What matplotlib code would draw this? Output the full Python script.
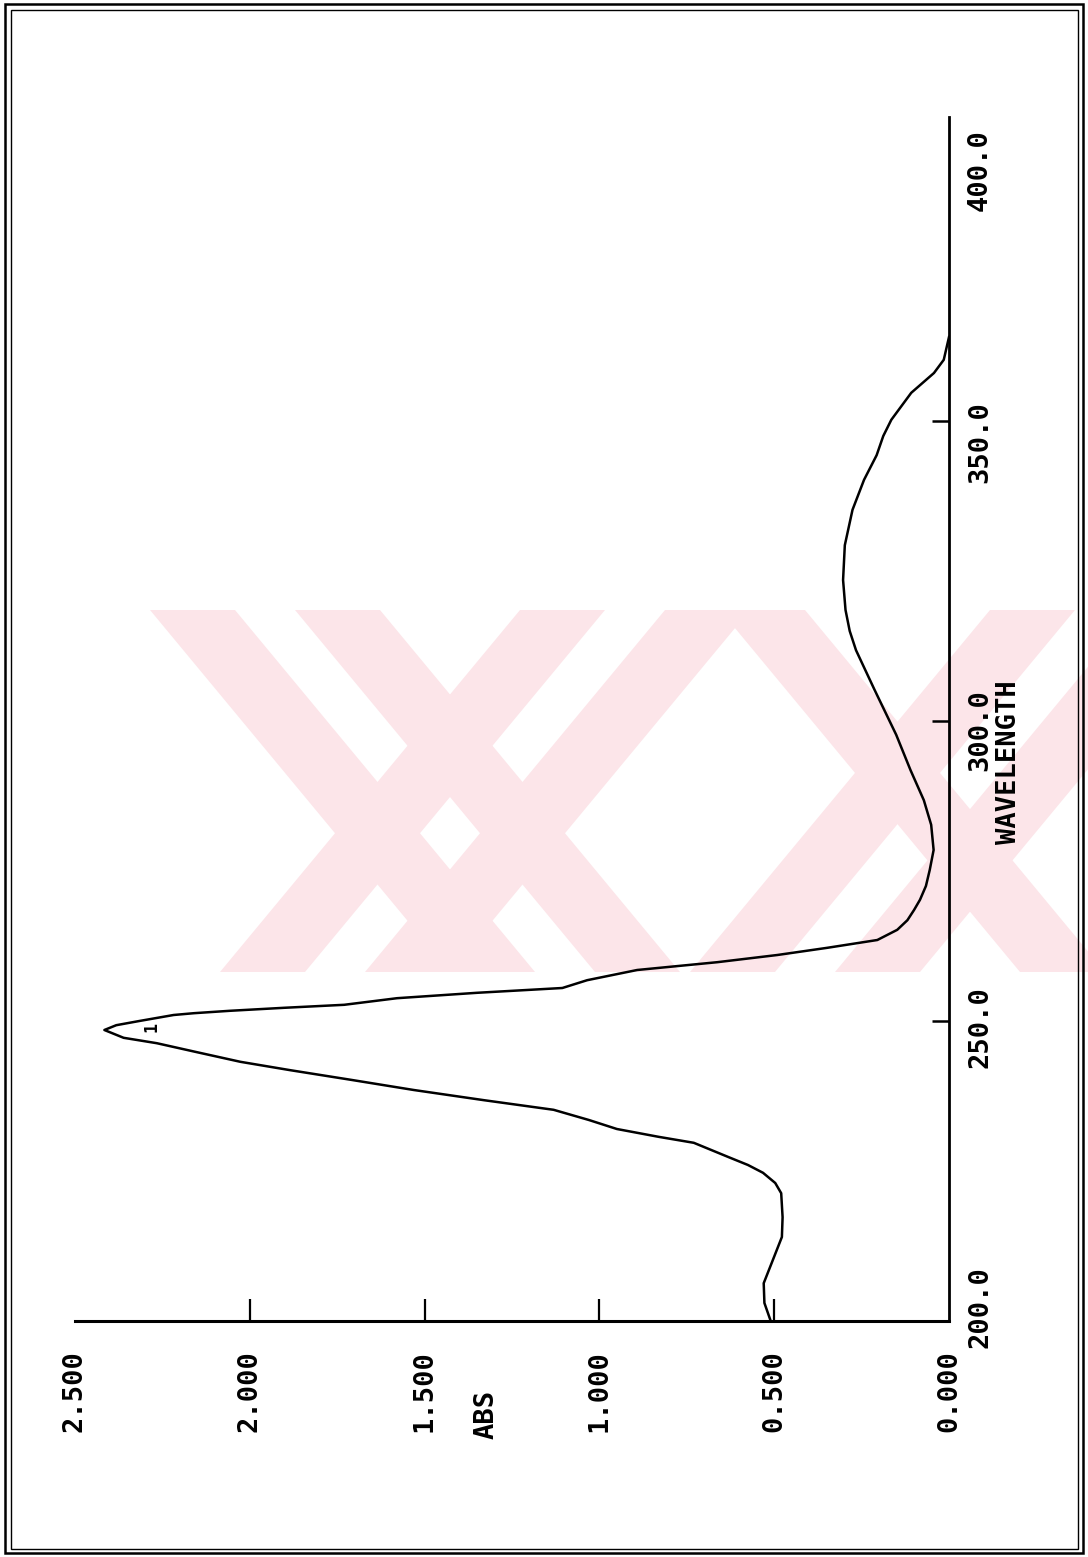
import matplotlib
matplotlib.use('Agg')
import matplotlib.pyplot as plt
from matplotlib.patches import Rectangle, Polygon

# absorbance spectrum, read along the wavelength axis (nm)
wavelength = [200.0, 203.0, 206.3, 209.7, 214.0, 217.3, 221.3, 223.0, 224.7, 226.0,
              227.3, 228.5, 229.7, 230.7, 232.0, 233.5, 235.2, 236.8, 238.5, 240.2,
              241.8, 243.2, 244.8, 246.3, 247.2, 248.5, 249.3, 250.0, 250.5, 251.0,
              251.3, 251.7, 252.2, 252.7, 253.8, 254.7, 255.5, 256.8, 258.5, 259.8,
              261.0, 262.2, 263.5, 265.2, 266.8, 268.5, 270.2, 272.5, 275.2, 278.5,
              282.7, 286.8, 291.8, 297.7, 305.2, 311.8, 315.0, 318.5, 323.5, 329.3,
              335.2, 340.2, 344.3, 347.5, 350.2, 354.7, 358.0, 360.2, 364.0]
absorb = [0.510, 0.528, 0.530, 0.507, 0.478, 0.476, 0.480, 0.497, 0.532, 0.575,
          0.630, 0.680, 0.730, 0.831, 0.950, 1.030, 1.131, 1.330, 1.531, 1.711,
          1.884, 2.027, 2.151, 2.266, 2.361, 2.416, 2.382, 2.316, 2.267, 2.218,
          2.160, 2.057, 1.902, 1.730, 1.579, 1.350, 1.106, 1.035, 0.892, 0.663,
          0.491, 0.348, 0.205, 0.148, 0.119, 0.100, 0.083, 0.066, 0.055, 0.044,
          0.051, 0.072, 0.110, 0.151, 0.213, 0.266, 0.284, 0.296, 0.303, 0.298,
          0.276, 0.243, 0.207, 0.188, 0.165, 0.108, 0.043, 0.015, 0.0]

abs_ticks = [0.5, 1.0, 1.5, 2.0]
abs_labels = ['0.000', '0.500', '1.000', '1.500', '2.000', '2.500']
abs_label_vals = [0.0, 0.5, 1.0, 1.5, 2.0, 2.5]
wl_ticks = [250, 300, 350]
wl_labels = ['200.0', '250.0', '300.0', '350.0', '400.0']
wl_label_vals = [202.3, 249.0, 298.5, 346.5, 391.8]
peak_wl, peak_abs = 249.0, 2.28

W, H = 1088, 1557
FONT = dict(family=['DejaVu Sans Mono'], weight='bold', size=19.5, color='black')


def px(x, y):
    return x / W, 1 - y / H


fig = plt.figure(figsize=(W / 100, H / 100), dpi=100)
fig.patch.set_facecolor('white')

# watermark stripes behind the plot
band_top, band_bot, shift, stroke = 610, 972, 300, 85
for a in [150, 295, 720]:
    pts = [px(a, band_top), px(a + stroke, band_top),
           px(a + stroke + shift, band_bot), px(a + shift, band_bot)]
    fig.add_artist(Polygon(pts, closed=True, transform=fig.transFigure,
                           facecolor='#fce5e9', edgecolor='none', zorder=-2))
for b in [220, 365, 690, 835]:
    pts = [px(b, band_bot), px(b + stroke, band_bot),
           px(b + stroke + shift, band_top), px(b + shift, band_top)]
    fig.add_artist(Polygon(pts, closed=True, transform=fig.transFigure,
                           facecolor='#fce5e9', edgecolor='none', zorder=-2))

# page frame (double line)
fig.add_artist(Rectangle(px(5, 1553), 1078 / W, 1549 / H, transform=fig.transFigure,
                         fill=False, edgecolor='black', linewidth=1.8, zorder=5))
fig.add_artist(Rectangle(px(11, 1549), 1067 / W, 1539 / H, transform=fig.transFigure,
                         fill=False, edgecolor='black', linewidth=1.0, zorder=5))

# axes: absorbance runs right-to-left, wavelength bottom-to-top
x0, x1, y0, y1 = 75, 949, 1321, 117
ax = fig.add_axes([x0 / W, 1 - y0 / H, (x1 - x0) / W, (y0 - y1) / H])
ax.set_facecolor('none')
ax.set_xlim(2.5, 0)
ax.set_ylim(200, 200 + (y0 - y1) / 6)

ax.plot(absorb, wavelength, color='black', linewidth=1.8, solid_joinstyle='round')

for side in ['left', 'top']:
    ax.spines[side].set_visible(False)
ax.spines['right'].set_linewidth(2.0)
ax.spines['bottom'].set_linewidth(2.2)

ax.yaxis.tick_right()
ax.set_yticks(wl_ticks)
ax.set_yticklabels([])
ax.set_xticks(abs_ticks)
ax.set_xticklabels([])
ax.tick_params(axis='y', direction='in', length=12, width=1.8)
ax.tick_params(axis='x', direction='in', length=16, width=1.6)

# tick labels, rotated with the page
xt = ax.get_xaxis_transform()
yt = ax.get_yaxis_transform()
for v, s in zip(abs_label_vals, abs_labels):
    ax.text(v, -0.058, s, transform=xt, rotation=90, ha='center', va='center',
            clip_on=False, **FONT)
for v, s in zip(wl_label_vals, wl_labels):
    ax.text(1.0355, v, s, transform=yt, rotation=90, ha='center', va='center',
            clip_on=False, **FONT)

ax.text(1.324, -0.078, 'ABS', transform=xt, rotation=90, ha='center', va='center',
        clip_on=False, **FONT)
ax.text(1.0690, 293.2, 'WAVELENGTH', transform=yt, rotation=90, ha='center',
        va='center', clip_on=False, **FONT)

# peak marker
ax.text(peak_abs, peak_wl, '1', rotation=90, ha='center', va='center',
        family='DejaVu Sans Mono', weight='bold', size=12)

fig.savefig('out.png', dpi=100)
